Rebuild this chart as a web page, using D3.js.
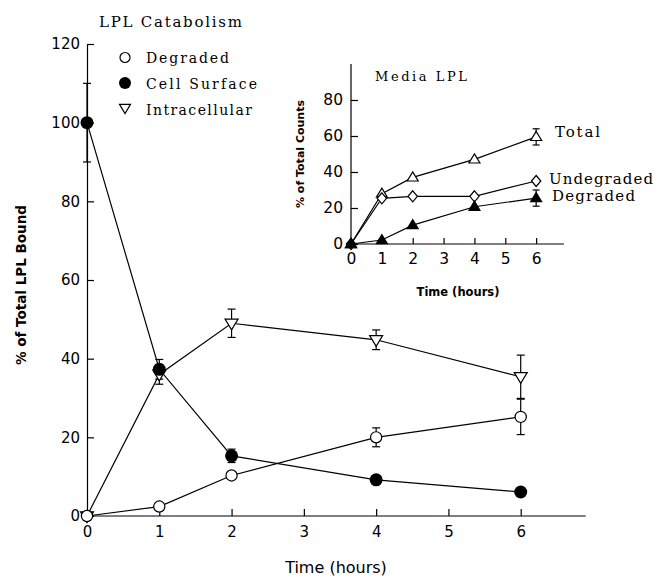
<!DOCTYPE html>
<html><head><meta charset="utf-8">
<script src="https://cdn.jsdelivr.net/npm/d3@7"></script>
<style>body{margin:0;background:#fff}</style>
</head><body>
<svg id="chart" width="659" height="576"></svg>
<script>
// Sampling times (hours)
const hours = [0, 1, 2, 4, 6];

// Main panel: % of total LPL bound
const degraded = [0, 2.4, 10.3, 20, 25.2];
const degradedErr = [0, 0, 0, 2.4, 4.5];
const cellSurface = [100, 37.3, 15.3, 9.2, 6.1];
const cellSurfaceErr = [10, 2.5, 1.7, 0, 0];
const intracellular = [0, 36, 49, 44.8, 35.4];
const intracellularErr = [0, 2.5, 3.6, 2.5, 5.5];
const mainYTicks = [0, 20, 40, 60, 80, 100, 120];
const mainXTicks = [0, 1, 2, 3, 4, 5, 6];
const legendLabels = ["Degraded", "Cell Surface", "Intracellular"];

// Inset: media LPL, % of total counts
const mediaTotal = [0, 28, 37, 47, 59.5];
const mediaTotalErr = [0, 0, 0, 0, 4.5];
const mediaUndegraded = [0, 25.4, 26.5, 26.5, 35];
const mediaDegraded = [0, 2.2, 10.5, 20.7, 25.5];
const mediaDegradedErr = [0, 0, 0, 0, 4.5];
const insetYTicks = [0, 20, 40, 60, 80];
const insetXTicks = [0, 1, 2, 3, 4, 5, 6];
const insetLabels = ["Total", "Undegraded", "Degraded"];

const svg = d3.select("#chart");
const SANS = "DejaVu Sans";
const SERIF = "DejaVu Serif";
const LW = 1.2;
const fmt = d3.format("d");

// ---- marker shapes ----
function triDown(s) { // s = half width
  return `M${-s},${-s*0.65}L${s},${-s*0.65}L0,${s*1.0}Z`;
}
function triUp(s) {
  return `M${-s},${s*0.65}L${s},${s*0.65}L0,${-s*1.0}Z`;
}
function diamond(s) {
  return `M0,${-s}L${s*0.85},0L0,${s}L${-s*0.85},0Z`;
}

function drawSeries(g, x, y, vals, errs, capW) {
  const pts = hours.map((h, i) => ({h, v: vals[i], e: errs ? errs[i] : 0}));
  g.append("path").datum(pts)
    .attr("d", d3.line().x(d => x(d.h)).y(d => y(d.v)))
    .attr("fill", "none").attr("stroke", "#000").attr("stroke-width", LW);
  const eb = g.append("g").attr("stroke", "#000").attr("stroke-width", LW);
  pts.filter(d => d.e > 0).forEach(d => {
    const cx = x(d.h);
    eb.append("line").attr("x1", cx).attr("x2", cx).attr("y1", y(d.v - d.e)).attr("y2", y(d.v + d.e));
    [d.v - d.e, d.v + d.e].forEach(v => {
      eb.append("line").attr("x1", cx - capW/2).attr("x2", cx + capW/2).attr("y1", y(v)).attr("y2", y(v));
    });
  });
  return pts;
}

function drawMarkers(g, x, y, pts, marker) {
  pts.forEach(d => marker(g, x(d.h), y(d.v)));
}

const openCircle = r => (g, cx, cy) => g.append("circle").attr("cx", cx).attr("cy", cy).attr("r", r)
  .attr("fill", "#fff").attr("stroke", "#000").attr("stroke-width", LW);
const filledCircle = r => (g, cx, cy) => g.append("circle").attr("cx", cx).attr("cy", cy).attr("r", r)
  .attr("fill", "#000");
const pathMarker = (dstr, fill) => (g, cx, cy) => g.append("path").attr("d", dstr)
  .attr("transform", `translate(${cx},${cy})`)
  .attr("fill", fill).attr("stroke", "#000").attr("stroke-width", LW).attr("stroke-linejoin", "miter");

function styleAxis(ax, size, family) {
  ax.attr("font-family", family).attr("font-size", size).attr("color", "#000");
  ax.selectAll("line").attr("stroke-width", LW);
  ax.selectAll("path").attr("stroke-width", LW);
}

// ================= main panel =================
const x = d3.scaleLinear().domain([0, 7]).range([87, 593]);
const y = d3.scaleLinear().domain([0, 120]).range([516, 44]);

const yAx = svg.append("g").attr("transform", `translate(${x(0)},0)`)
  .call(d3.axisLeft(y).tickValues(mainYTicks).tickFormat(fmt).tickSize(-7).tickSizeOuter(0).tickPadding(7));
styleAxis(yAx, 15, SANS);

const xAx = svg.append("g").attr("transform", `translate(0,${y(0)})`)
  .call(d3.axisBottom(x).tickValues(mainXTicks).tickFormat(fmt).tickSize(-7).tickSizeOuter(0).tickPadding(10));
xAx.select(".domain").remove();
styleAxis(xAx, 15, SANS);
svg.append("line").attr("x1", x(0)).attr("x2", x(6.9)).attr("y1", y(0)).attr("y2", y(0))
  .attr("stroke", "#000").attr("stroke-width", LW);

const main = svg.append("g");
const pCell = drawSeries(main, x, y, cellSurface, cellSurfaceErr, 8);
const pIntra = drawSeries(main, x, y, intracellular, intracellularErr, 8);
const pDeg = drawSeries(main, x, y, degraded, degradedErr, 8);
drawMarkers(main, x, y, pIntra, pathMarker(triDown(6.5), "#fff"));
drawMarkers(main, x, y, pCell, filledCircle(6.5));
drawMarkers(main, x, y, pDeg, openCircle(5.6));

// titles and axis labels
svg.append("text").attr("x", 99).attr("y", 27).attr("font-family", SERIF).attr("font-size", 15)
  .attr("textLength", 143).text("LPL Catabolism");
svg.append("text").attr("x", 336).attr("y", 573).attr("text-anchor", "middle")
  .attr("font-family", SANS).attr("font-size", 16).text("Time (hours)");
svg.append("text").attr("transform", "translate(26,285) rotate(-90)").attr("text-anchor", "middle")
  .attr("font-family", SANS).attr("font-size", 13.5).attr("font-weight", "bold").text("% of Total LPL Bound");

// legend
const legendMarkers = [openCircle(5), filledCircle(6), pathMarker(triDown(5.5), "#fff")];
const legendY = [57.5, 83, 108];
const legendBase = [62.5, 89, 115];
const legendW = [83, 111, 106];
legendLabels.forEach((lab, i) => {
  legendMarkers[i](svg, 125, legendY[i]);
  svg.append("text").attr("x", 146).attr("y", legendBase[i]).attr("font-family", SERIF)
    .attr("font-size", 14).attr("textLength", legendW[i]).text(lab);
});

// ================= inset panel =================
const xi = d3.scaleLinear().domain([0, 7]).range([351, 567]);
const yi = d3.scaleLinear().domain([0, 100]).range([244, 64]);

const yiAx = svg.append("g").attr("transform", `translate(${xi(0)},0)`)
  .call(d3.axisLeft(yi).tickValues(insetYTicks).tickFormat(fmt).tickSize(-7).tickSizeOuter(0).tickPadding(8));
yiAx.select(".domain").attr("d", `M0,${yi(0)}V${yi(100)}`);
styleAxis(yiAx, 15.5, SANS);

const xiAx = svg.append("g").attr("transform", `translate(0,${yi(0)})`)
  .call(d3.axisBottom(xi).tickValues(insetXTicks).tickFormat(fmt).tickSize(-6).tickSizeOuter(0).tickPadding(9));
xiAx.select(".domain").remove();
styleAxis(xiAx, 15.5, SANS);
svg.append("line").attr("x1", xi(0)).attr("x2", xi(6.9)).attr("y1", yi(0)).attr("y2", yi(0))
  .attr("stroke", "#000").attr("stroke-width", LW);

const inset = svg.append("g");
const iTot = drawSeries(inset, xi, yi, mediaTotal, mediaTotalErr, 7);
const iUnd = drawSeries(inset, xi, yi, mediaUndegraded, null, 7);
const iDeg = drawSeries(inset, xi, yi, mediaDegraded, mediaDegradedErr, 7);
drawMarkers(inset, xi, yi, iTot, pathMarker(triUp(5.5), "#fff"));
drawMarkers(inset, xi, yi, iUnd, pathMarker(diamond(5.5), "#fff"));
drawMarkers(inset, xi, yi, iDeg, pathMarker(triUp(5.5), "#000"));

svg.append("text").attr("x", 375).attr("y", 81).attr("font-family", SERIF).attr("font-size", 13)
  .attr("textLength", 92).text("Media LPL");
svg.append("text").attr("x", 458).attr("y", 296).attr("text-anchor", "middle")
  .attr("font-family", SANS).attr("font-size", 11.5).attr("font-weight", "bold").text("Time (hours)");
svg.append("text").attr("transform", "translate(304,154) rotate(-90)").attr("text-anchor", "middle")
  .attr("font-family", SANS).attr("font-size", 11).attr("font-weight", "bold").text("% of Total Counts");

const insetLabX = [555, 549, 552];
const insetLabY = [137, 184, 201];
const insetLabW = [45, 104, 83];
insetLabels.forEach((lab, i) => {
  svg.append("text").attr("x", insetLabX[i]).attr("y", insetLabY[i]).attr("font-family", SERIF)
    .attr("font-size", 15).attr("textLength", insetLabW[i]).text(lab);
});
</script>
</body></html>
